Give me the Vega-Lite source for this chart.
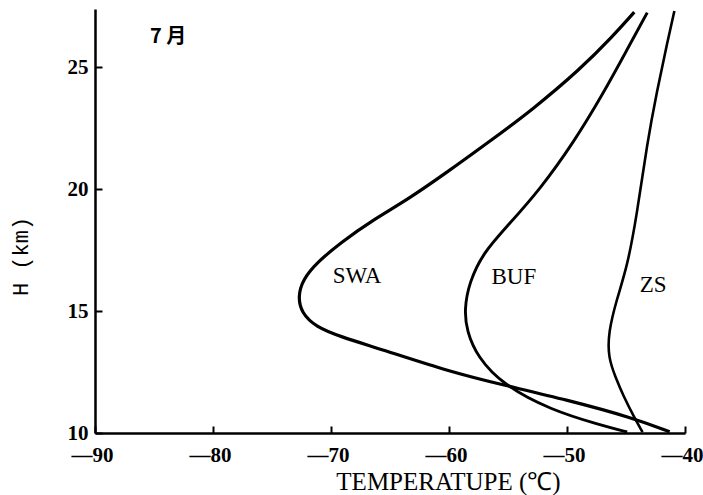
{
  "$schema": "https://vega.github.io/schema/vega-lite/v6.json",
  "width": 590,
  "height": 424,
  "autosize": "none",
  "padding": {"left": 95, "top": 9, "right": 18, "bottom": 62},
  "background": "white",
  "config": {
    "view": {"stroke": null},
    "axis": {
      "grid": false,
      "domainColor": "black",
      "domainWidth": 2.5,
      "tickColor": "black",
      "tickWidth": 2,
      "tickSize": -7,
      "labelColor": "black",
      "labelFont": "Liberation Serif",
      "labelFontWeight": "bold",
      "labelFontSize": 21,
      "labelFlush": false,
      "labelOverlap": false,
      "titleColor": "black",
      "titleFont": "Liberation Serif",
      "titleFontWeight": "normal"
    }
  },
  "layer": [
    {
      "data": {
        "values": [
          {"s": "SWA", "i": 1, "T": -44.3, "H": 27.27},
          {"s": "SWA", "i": 2, "T": -46.1, "H": 26.29},
          {"s": "SWA", "i": 3, "T": -48.9, "H": 24.92},
          {"s": "SWA", "i": 4, "T": -52.9, "H": 23.28},
          {"s": "SWA", "i": 5, "T": -56.6, "H": 21.95},
          {"s": "SWA", "i": 6, "T": -60.2, "H": 20.69},
          {"s": "SWA", "i": 7, "T": -63.5, "H": 19.58},
          {"s": "SWA", "i": 8, "T": -66.4, "H": 18.76},
          {"s": "SWA", "i": 9, "T": -69.2, "H": 17.81},
          {"s": "SWA", "i": 10, "T": -71.2, "H": 16.99},
          {"s": "SWA", "i": 11, "T": -72.4, "H": 16.29},
          {"s": "SWA", "i": 12, "T": -72.8, "H": 15.59},
          {"s": "SWA", "i": 13, "T": -72.5, "H": 14.93},
          {"s": "SWA", "i": 14, "T": -71.3, "H": 14.36},
          {"s": "SWA", "i": 15, "T": -69.2, "H": 13.95},
          {"s": "SWA", "i": 16, "T": -65.8, "H": 13.45},
          {"s": "SWA", "i": 17, "T": -59.9, "H": 12.51},
          {"s": "SWA", "i": 18, "T": -55.4, "H": 11.97},
          {"s": "SWA", "i": 19, "T": -50.0, "H": 11.36},
          {"s": "SWA", "i": 20, "T": -44.4, "H": 10.62},
          {"s": "SWA", "i": 21, "T": -41.3, "H": 10.05},
          {"s": "BUF", "i": 1, "T": -43.2, "H": 27.25},
          {"s": "BUF", "i": 2, "T": -44.9, "H": 25.74},
          {"s": "BUF", "i": 3, "T": -46.9, "H": 23.96},
          {"s": "BUF", "i": 4, "T": -49.4, "H": 21.95},
          {"s": "BUF", "i": 5, "T": -52.3, "H": 19.99},
          {"s": "BUF", "i": 6, "T": -55.1, "H": 18.47},
          {"s": "BUF", "i": 7, "T": -57.1, "H": 17.4},
          {"s": "BUF", "i": 8, "T": -58.3, "H": 16.17},
          {"s": "BUF", "i": 9, "T": -58.7, "H": 15.06},
          {"s": "BUF", "i": 10, "T": -58.5, "H": 14.2},
          {"s": "BUF", "i": 11, "T": -57.6, "H": 13.12},
          {"s": "BUF", "i": 12, "T": -55.4, "H": 11.97},
          {"s": "BUF", "i": 13, "T": -51.4, "H": 10.95},
          {"s": "BUF", "i": 14, "T": -47.2, "H": 10.33},
          {"s": "BUF", "i": 15, "T": -44.9, "H": 10.04},
          {"s": "ZS", "i": 1, "T": -40.9, "H": 27.32},
          {"s": "ZS", "i": 2, "T": -41.5, "H": 26.03},
          {"s": "ZS", "i": 3, "T": -42.4, "H": 23.97},
          {"s": "ZS", "i": 4, "T": -43.2, "H": 21.92},
          {"s": "ZS", "i": 5, "T": -44.1, "H": 18.88},
          {"s": "ZS", "i": 6, "T": -44.9, "H": 16.82},
          {"s": "ZS", "i": 7, "T": -45.8, "H": 15.47},
          {"s": "ZS", "i": 8, "T": -46.5, "H": 14.11},
          {"s": "ZS", "i": 9, "T": -46.5, "H": 13.1},
          {"s": "ZS", "i": 10, "T": -45.9, "H": 12.3},
          {"s": "ZS", "i": 11, "T": -45.2, "H": 11.5},
          {"s": "ZS", "i": 12, "T": -44.3, "H": 10.64},
          {"s": "ZS", "i": 13, "T": -43.6, "H": 10.04}
        ]
      },
      "mark": {"type": "line", "interpolate": "basis", "color": "black"},
      "encoding": {
        "x": {
          "field": "T",
          "type": "quantitative",
          "scale": {"domain": [-90, -40], "nice": false, "zero": false},
          "axis": {
            "values": [-90, -80, -70, -60, -50, -40],
            "labelExpr": "'—' + abs(datum.value)",
            "labelPadding": 18,
            "labelOffset": -3,
            "title": "TEMPERATUPE (℃)",
            "titleFontSize": 25,
            "titleX": 353,
            "titleY": 48,
            "titleAlign": "center",
            "titleBaseline": "middle"
          }
        },
        "y": {
          "field": "H",
          "type": "quantitative",
          "scale": {"domain": [10, 27.4], "nice": false, "zero": false},
          "axis": {
            "values": [10, 15, 20, 25],
            "labelPadding": 14,
            "title": "H  (km)",
            "titleFont": "Liberation Mono",
            "titleFontSize": 22,
            "titleX": -75,
            "titleY": 247,
            "titleAngle": -90,
            "titleAlign": "center",
            "titleBaseline": "middle"
          }
        },
        "detail": {"field": "s"},
        "order": {"field": "i", "type": "quantitative"},
        "strokeWidth": {
          "field": "s",
          "type": "ordinal",
          "scale": {"domain": ["SWA", "BUF", "ZS"], "range": [3.2, 2.6, 2.2]},
          "legend": null
        }
      }
    },
    {
      "data": {
        "values": [
          {"T": -67.8, "H": 16.45, "label": "SWA"},
          {"T": -54.5, "H": 16.41, "label": "BUF"},
          {"T": -42.7, "H": 16.08, "label": "ZS"}
        ]
      },
      "mark": {"type": "text", "font": "Liberation Serif", "fontSize": 23, "color": "black", "align": "center", "baseline": "middle"},
      "encoding": {
        "x": {"field": "T", "type": "quantitative"},
        "y": {"field": "H", "type": "quantitative"},
        "text": {"field": "label"}
      }
    },
    {
      "data": {"values": [{"T": -83.8, "H": 26.24, "label": "7 月"}]},
      "mark": {"type": "text", "font": "Noto Sans CJK SC", "fontSize": 20, "fontWeight": "bold", "color": "black", "align": "center", "baseline": "middle"},
      "encoding": {
        "x": {"field": "T", "type": "quantitative"},
        "y": {"field": "H", "type": "quantitative"},
        "text": {"field": "label"}
      }
    }
  ]
}
